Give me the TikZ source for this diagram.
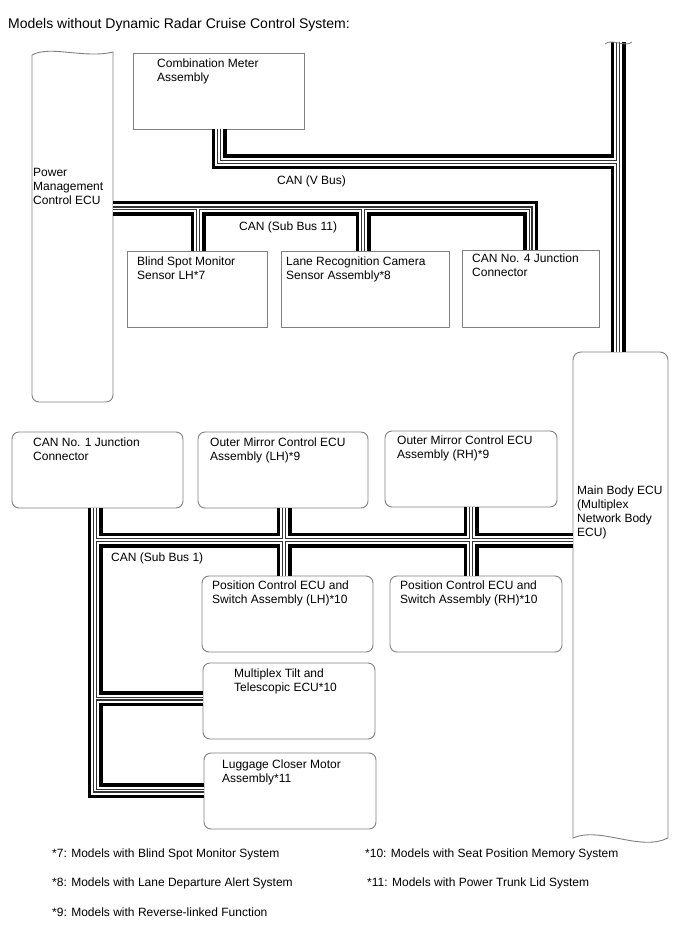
\documentclass[tikz,border=0pt]{standalone}
\usepackage{fontspec}
\setmainfont{Liberation Sans}
\usetikzlibrary{calc}
\begin{document}
\begin{tikzpicture}[x=1pt,y=-1pt,
  outl/.style={draw=black!50,line width=0.9pt},
  sbox/.style={outl,anchor=north west,inner sep=0pt,outer sep=0pt},
  rbox/.style={sbox,rounded corners=7pt},
  hold/.style={anchor=north west,inner sep=0pt,outer sep=0pt},
  lbl/.style={anchor=north west,inner sep=0pt,align=left,font=\fontsize{12}{14}\selectfont,execute at begin node={\rule{0pt}{10pt}}},
  one/.style={anchor=base west,inner sep=0pt,font=\fontsize{12}{14}\selectfont}]
\useasboundingbox (0,0) rectangle (688,949);

% title
\node[anchor=base west,inner sep=0pt,font=\fontsize{14}{16}\selectfont] (title) at (8,28.3) {Models without Dynamic Radar Cruise Control System:};

% placeholders for custom shaped ECUs
\node[hold,minimum width=81pt,minimum height=349pt] (pm) at (32,53) {};
\node[hold,minimum width=95pt,minimum height=486pt] (mb) at (573,352) {};
\draw[outl] (32,55) .. controls (50,45) and (85,59) .. (113,52)
  [rounded corners=7pt] -- (113,402) -- (32,402) -- (32,55);
\draw[outl] (668,838) [rounded corners=8pt] -- (668,352) -- (573,352) [sharp corners] -- (573,838)
  .. controls (600,826) and (640,852) .. (668,838);

% boxes
\node[sbox,minimum width=171pt,minimum height=76pt] (cm) at (133,53) {};
\node[sbox,minimum width=140pt,minimum height=76pt] (bsm) at (127,251) {};
\node[sbox,minimum width=168pt,minimum height=76pt] (lane) at (281,251) {};
\node[sbox,minimum width=137pt,minimum height=77pt] (j4) at (462,250) {};
\node[rbox,minimum width=171pt,minimum height=76pt] (j1) at (12,432) {};
\node[rbox,minimum width=170pt,minimum height=76pt] (omL) at (198,432) {};
\node[rbox,minimum width=172pt,minimum height=76pt] (omR) at (385,431) {};
\node[rbox,minimum width=171pt,minimum height=76pt] (pcL) at (202,576) {};
\node[rbox,minimum width=172pt,minimum height=76pt] (pcR) at (390,576) {};
\node[rbox,minimum width=172pt,minimum height=76pt] (tilt) at (203,663) {};
\node[rbox,minimum width=172pt,minimum height=76pt] (lug) at (204,753) {};

% bus coordinates
\coordinate (cv) at (219,162);
\coordinate (mtop) at (618,42);
\coordinate (s11) at (530.5,208.5);
\coordinate (b7) at (198,208.5);
\coordinate (b8) at (363,208.5);
\coordinate (s1t) at (95,540);
\coordinate (s1m) at (95,698.5);
\coordinate (s1b) at (95,790.5);
\coordinate (cL) at (284,540);
\coordinate (cR) at (471,540);

\newcommand{\busnet}[1]{%
  \draw[#1] (cv |- cm.south) -- (cv) -- (cv -| mtop);
  \draw[#1] (mtop) -- (mtop |- mb.north);
  \draw[#1] (pm.east |- s11) -- (s11) -- (s11 |- j4.north);
  \draw[#1] (b7) -- (b7 |- bsm.north);
  \draw[#1] (b8) -- (b8 |- lane.north);
  \draw[#1] (s1t |- j1.south) -- (s1b) -- (s1b -| lug.west);
  \draw[#1] (s1t) -- (s1t -| mb.west);
  \draw[#1] (s1m) -- (s1m -| tilt.west);
  \draw[#1] (cL |- omL.south) -- (cL |- pcL.north);
  \draw[#1] (cR |- omR.south) -- (cR |- pcR.north);
}
\busnet{line width=15pt,black}
\busnet{line width=8pt,white}
\busnet{line width=4pt,black!80}
\busnet{line width=1.2pt,white}

% wavy cut at top of main bus
\draw[outl] (605,44) .. controls (611,38) and (626,48) .. (632,42);

% labels
\node[lbl] (pmt) at (33,168.5) {Power\\Management\\Control ECU};
\node[lbl] (cmt) at (157,58.3) {Combination Meter\\Assembly};
\node[lbl] (bsmt) at (137,256.7) {Blind Spot Monitor\\Sensor LH*7};
\node[lbl] (lanet) at (286,256.7) {Lane Recognition Camera\\Sensor Assembly*8};
\node[lbl] (j4t) at (472,254) {CAN No. 4 Junction\\Connector};
\node[lbl] (mbt) at (577,486) {Main Body ECU\\(Multiplex\\Network Body\\ECU)};
\node[lbl] (j1t) at (33,437.5) {CAN No. 1 Junction\\Connector};
\node[lbl] (omLt) at (210,437.5) {Outer Mirror Control ECU\\Assembly (LH)*9};
\node[lbl] (omRt) at (397,436) {Outer Mirror Control ECU\\Assembly (RH)*9};
\node[lbl] (pcLt) at (212,580.7) {Position Control ECU and\\Switch Assembly (LH)*10};
\node[lbl] (pcRt) at (400,580.7) {Position Control ECU and\\Switch Assembly (RH)*10};
\node[lbl] (tiltt) at (234,668.3) {Multiplex Tilt and\\Telescopic ECU*10};
\node[lbl] (lugt) at (222,760) {Luggage Closer Motor\\Assembly*11};

\node[one] (vbus) at (277,184.5) {CAN (V Bus)};
\node[one] (sb11) at (239,230.5) {CAN (Sub Bus 11)};
\node[one] (sb1) at (111,561.5) {CAN (Sub Bus 1)};

% footnotes
\node[one] (n7) at (52,857) {*7: Models with Blind Spot Monitor System};
\node[one] (n8) at (52,886) {*8: Models with Lane Departure Alert System};
\node[one] (n9) at (52,916) {*9: Models with Reverse-linked Function};
\node[one] (n10) at (365,857) {*10: Models with Seat Position Memory System};
\node[one] (n11) at (367,886) {*11: Models with Power Trunk Lid System};
\end{tikzpicture}
\end{document}
